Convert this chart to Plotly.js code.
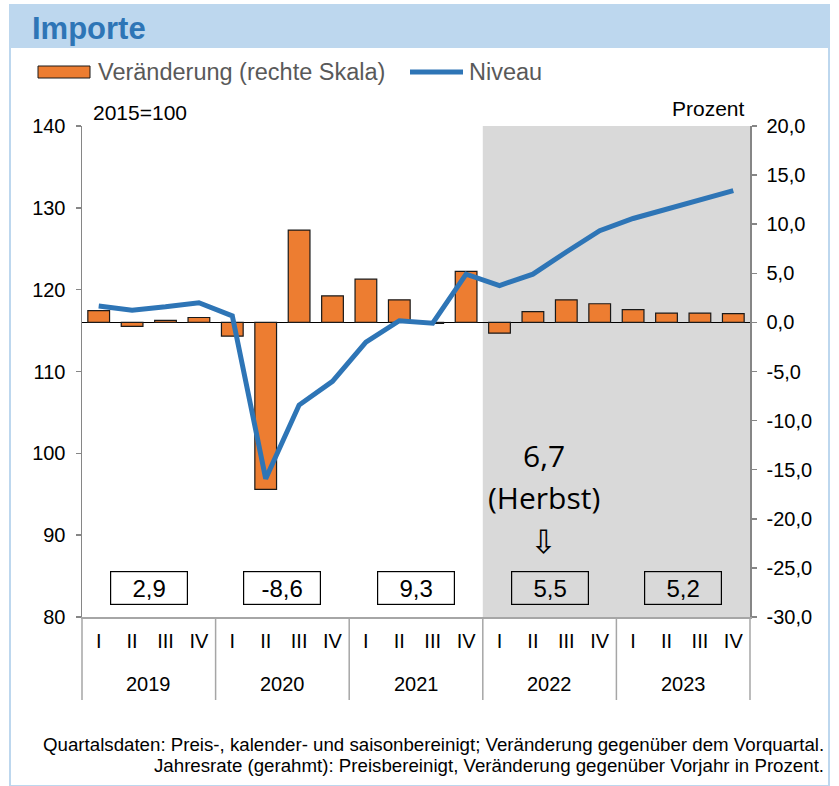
<!DOCTYPE html>
<html>
<head>
<meta charset="utf-8">
<script src="https://cdn.plot.ly/plotly-3.0.1.min.js"></script>
<style>html,body{margin:0;padding:0;background:#fff;}#chart{width:839px;height:786px;}</style>
</head>
<body>
<div id="chart"></div>
<script>
// ---- data ----
const years = ['2019', '2020', '2021', '2022', '2023'];
const quarters = ['I', 'II', 'III', 'IV'];
// quarterly change vs previous quarter (right axis, percent)
const veraenderung = [1.2, -0.4, 0.2, 0.5, -1.4, -17.0, 9.4, 2.7, 4.4, 2.3, -0.1, 5.2, -1.1, 1.1, 2.3, 1.9, 1.3, 0.95, 0.95, 0.9];
// level, 2015=100 (left axis)
const niveau = [118.0, 117.5, 117.9, 118.4, 116.8, 96.9, 105.9, 108.8, 113.6, 116.2, 115.9, 121.9, 120.5, 121.9, 124.6, 127.2, 128.7, 129.8, 131.0, 132.1];
// annual rates (framed)
const jahresrate = [2.9, -8.6, 9.3, 5.5, 5.2];
const herbstWert = 6.7;
// axis tick values
const leftTicks = [80, 90, 100, 110, 120, 130, 140];
const rightTicks = [-30, -25, -20, -15, -10, -5, 0, 5, 10, 15, 20];

// ---- layout helpers (pixel -> paper) ----
const L = 82, R = 750, T = 126, B = 617;
const px = v => (v - L) / (R - L);
const py = v => (B - v) / (B - T);
const fmt = v => v.toFixed(1).replace('.', ',');

const xCat = [], xQ = [];
years.forEach(y => quarters.forEach(q => { xCat.push(y + ' ' + q); xQ.push(q); }));

const bars = {
  type: 'bar', x: xCat, y: veraenderung, yaxis: 'y',
  name: 'Veränderung (rechte Skala)',
  marker: {color: '#ED7D31', line: {color: '#1a1a1a', width: 1.2}},
  showlegend: false, hoverinfo: 'skip'
};
const line = {
  type: 'scatter', mode: 'lines', x: xCat, y: niveau, yaxis: 'y2',
  name: 'Niveau', line: {color: '#2E75B6', width: 5},
  showlegend: false, hoverinfo: 'skip'
};

const FONT = 'Liberation Sans, Arial, sans-serif';
const axisFont = {family: FONT, size: 20, color: '#000'};
const shapes = [
  // outer frame
  {type: 'rect', xref: 'paper', yref: 'paper', x0: px(10), x1: px(829), y0: py(786), y1: py(5),
   line: {color: '#BDD7EE', width: 2}, fillcolor: 'rgba(0,0,0,0)', layer: 'below'},
  // title banner
  {type: 'rect', xref: 'paper', yref: 'paper', x0: px(10), x1: px(829), y0: py(48), y1: py(5),
   line: {width: 0}, fillcolor: '#BDD7EE', layer: 'below'},
  // forecast shading (2022-2023)
  {type: 'rect', xref: 'paper', yref: 'paper', x0: 12 / 20, x1: 1, y0: 0, y1: 1,
   line: {width: 0}, fillcolor: '#D9D9D9', layer: 'below'},
  // legend symbols
  {type: 'rect', xref: 'paper', yref: 'paper', x0: px(38), x1: px(90), y0: py(78), y1: py(66),
   line: {color: '#1a1a1a', width: 1}, fillcolor: '#ED7D31'},
  {type: 'line', xref: 'paper', yref: 'paper', x0: px(410), x1: px(463), y0: py(72), y1: py(72),
   line: {color: '#2E75B6', width: 5}}
];
// year dividers below the axis
for (let i = 0; i <= years.length; i++) {
  shapes.push({type: 'line', xref: 'paper', yref: 'paper', x0: i / years.length, x1: i / years.length,
    y0: py(617), y1: py(700), line: {color: '#A6A6A6', width: 1.5}});
}

const annotations = [
  {xref: 'paper', yref: 'paper', x: px(96), y: py(72), xanchor: 'left', yanchor: 'middle', showarrow: false,
   text: 'Veränderung (rechte Skala)', font: {family: FONT, size: 23.5, color: '#595959'}},
  {xref: 'paper', yref: 'paper', x: px(467), y: py(72), xanchor: 'left', yanchor: 'middle', showarrow: false,
   text: 'Niveau', font: {family: FONT, size: 23.5, color: '#595959'}},
  {xref: 'paper', yref: 'paper', x: px(91), y: py(112), xanchor: 'left', yanchor: 'middle', showarrow: false,
   text: '2015=100', font: {family: FONT, size: 21, color: '#000'}},
  {xref: 'paper', yref: 'paper', x: px(747), y: py(108), xanchor: 'right', yanchor: 'middle', showarrow: false,
   text: 'Prozent', font: {family: FONT, size: 21, color: '#000'}},
  {xref: 'paper', yref: 'paper', x: px(544), y: py(455), xanchor: 'center', yanchor: 'middle', showarrow: false,
   text: fmt(herbstWert), font: {family: 'Open Sans, Noto Sans, sans-serif', size: 30, color: '#000'}},
  {xref: 'paper', yref: 'paper', x: px(544), y: py(497), xanchor: 'center', yanchor: 'middle', showarrow: false,
   text: '(Herbst)', font: {family: 'Open Sans, Noto Sans, sans-serif', size: 30, color: '#000'}},
  {xref: 'paper', yref: 'paper', x: px(543), y: py(542), xanchor: 'center', yanchor: 'middle', showarrow: false,
   text: '⇩', font: {family: 'DejaVu Sans, sans-serif', size: 32, color: '#000'}},
  {xref: 'paper', yref: 'paper', x: px(826), y: py(744), xanchor: 'right', yanchor: 'middle', showarrow: false,
   text: 'Quartalsdaten: Preis-, kalender- und saisonbereinigt; Veränderung gegenüber dem Vorquartal.',
   font: {family: FONT, size: 18.7, color: '#000'}},
  {xref: 'paper', yref: 'paper', x: px(826), y: py(765), xanchor: 'right', yanchor: 'middle', showarrow: false,
   text: 'Jahresrate (gerahmt): Preisbereinigt, Veränderung gegenüber Vorjahr in Prozent.',
   font: {family: FONT, size: 18.7, color: '#000'}}
];
years.forEach((y, i) => {
  annotations.push({xref: 'paper', yref: 'paper', x: (i + 0.5) / years.length, y: py(684), xanchor: 'center', yanchor: 'middle',
    showarrow: false, text: y, font: axisFont});
});
jahresrate.forEach((v, i) => {
  annotations.push({xref: 'paper', yref: 'paper', x: (i + 0.5) / years.length, y: py(588), xanchor: 'center', yanchor: 'middle',
    showarrow: false, text: fmt(v), width: 76, height: 32, borderpad: 0, bordercolor: '#000', borderwidth: 1.2,
    font: {family: FONT, size: 24, color: '#000'}});
});

const layout = {
  width: 839, height: 786,
  margin: {l: L, r: 839 - R, t: T, b: 786 - B, pad: 0},
  paper_bgcolor: '#fff', plot_bgcolor: 'rgba(0,0,0,0)',
  separators: ',.',
  showlegend: false,
  bargap: 0.35,
  title: {text: '<b>Importe</b>', x: 32 / 839, xanchor: 'left', xref: 'container', y: 1 - 28 / 786, yanchor: 'middle',
    font: {family: FONT, size: 31, color: '#2E75B6'}},
  xaxis: {
    type: 'category', showgrid: false, zeroline: false,
    showline: true, linecolor: '#A6A6A6', linewidth: 1.5,
    tickvals: xCat, ticktext: xQ, tickangle: 0,
    ticks: '', tickfont: axisFont, ticklabelstandoff: 5, fixedrange: true
  },
  yaxis: {
    side: 'right', range: [-30, 20], tickvals: rightTicks, ticktext: rightTicks.map(v => fmt(v)),
    showgrid: false, zeroline: true, zerolinecolor: '#000', zerolinewidth: 1.5,
    showline: true, linecolor: '#868686', linewidth: 1.5,
    ticks: 'outside', ticklen: 5, tickcolor: '#868686', tickwidth: 1.5,
    tickfont: axisFont, ticklabelstandoff: 6, fixedrange: true
  },
  yaxis2: {
    overlaying: 'y', side: 'left', range: [80, 140], tickvals: leftTicks,
    showgrid: false, zeroline: false,
    showline: true, linecolor: '#868686', linewidth: 1.5,
    ticks: 'outside', ticklen: 5, tickcolor: '#868686', tickwidth: 1.5,
    tickfont: axisFont, ticklabelstandoff: 6, fixedrange: true
  },
  shapes: shapes,
  annotations: annotations
};

Plotly.newPlot('chart', [bars, line], layout, {staticPlot: true, displayModeBar: false});
</script>
</body>
</html>
